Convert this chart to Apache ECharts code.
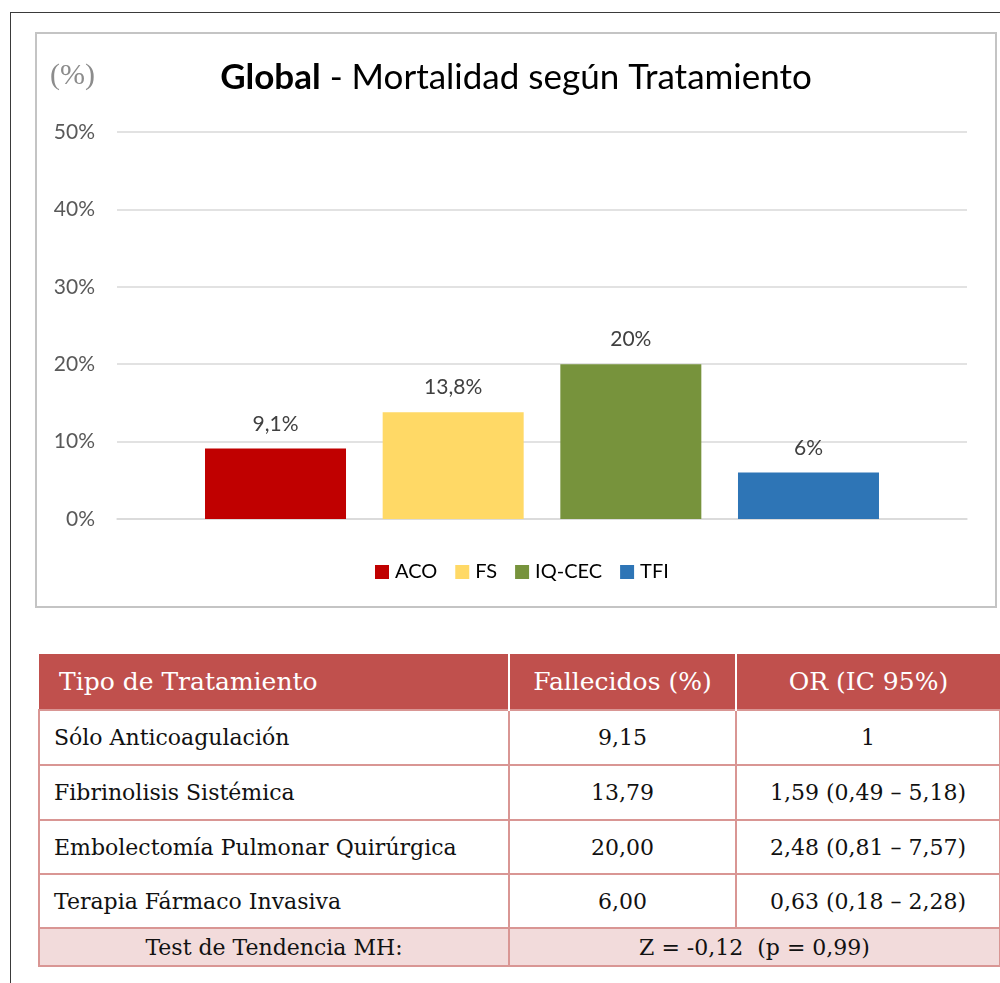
<!DOCTYPE html>
<html>
<head>
<meta charset="utf-8">
<script src="https://cdn.jsdelivr.net/npm/echarts@6/dist/echarts.min.js"></script>
<style>
  body { margin: 0; background: #fff; width: 1000px; height: 983px; position: relative; overflow: hidden; }
  .frame { position: absolute; left: 10px; top: 12px; width: 1000px; height: 980px;
    border-top: 1px solid #3a3a3a; border-left: 1px solid #3a3a3a; }
  .chart-box { position: absolute; left: 35px; top: 32px; width: 958px; height: 572px;
    border: 2px solid #c4c4c4; }
  #chart { width: 958px; height: 572px; }
  table.tt { position: absolute; left: 38px; top: 654px; width: 961px; border-collapse: collapse;
    table-layout: fixed; font-family: "DejaVu Serif", serif; font-size: 22px; color: #111; }
  .tt th { background: #c0504d; color: #fff; font-weight: normal; font-size: 25px; height: 55px;
    padding: 0; border-left: 2px solid #fff; }
  .tt th:first-child { border-left: none; text-align: left; padding-left: 20px; }
  .tt td { border: 2px solid #d99694; text-align: center; padding: 0; height: 53px; }
  .tt tr.r2 td, .tt tr.r3 td { height: 52px; }
  .tt td.name { text-align: left; padding-left: 14px; }
  .tt tr.test td { background: #f2dbdb; height: 36px; }
</style>
</head>
<body>
<div class="frame"></div>
<div class="chart-box"><div id="chart"></div></div>
<table class="tt" id="tabla">
  <colgroup><col style="width:470px"><col style="width:227px"><col style="width:264px"></colgroup>
</table>
<script>
// datos del grafico
var tratamientos = ['ACO', 'FS', 'IQ-CEC', 'TFI'];
var mortalidad = [9.1, 13.8, 20, 6];
var etiquetas = ['9,1%', '13,8%', '20%', '6%'];
var colores = ['#c00000', '#ffd966', '#77933c', '#2e75b6'];

// datos de la tabla
var encabezados = ['Tipo de Tratamiento', 'Fallecidos (%)', 'OR (IC 95%)'];
var nombres = ['Sólo Anticoagulación', 'Fibrinolisis Sistémica', 'Embolectomía Pulmonar Quirúrgica', 'Terapia Fármaco Invasiva'];
var fallecidos = ['9,15', '13,79', '20,00', '6,00'];
var orIc = ['1', '1,59 (0,49 – 5,18)', '2,48 (0,81 – 7,57)', '0,63 (0,18 – 2,28)'];
var testNombre = 'Test de Tendencia MH:';
var testValor = 'Z = -0,12  (p = 0,99)';

var fuente = 'Lato, "Open Sans", sans-serif';

var series = tratamientos.map(function (t, i) {
  return {
    name: t,
    type: 'bar',
    barWidth: 141,
    barGap: '26%',
    itemStyle: { color: colores[i] },
    label: {
      show: true,
      position: 'top',
      distance: 14,
      color: '#404040',
      fontSize: 21,
      fontFamily: fuente,
      formatter: function () { return etiquetas[i]; }
    },
    data: [mortalidad[i]]
  };
});

var chart = echarts.init(document.getElementById('chart'));
chart.setOption({
  animation: false,
  title: {
    text: '{b|Global} - Mortalidad según Tratamiento',
    left: 'center',
    top: 24,
    padding: 0,
    textStyle: {
      fontFamily: fuente,
      fontSize: 35,
      fontWeight: 'normal',
      color: '#000',
      lineHeight: 40,
      rich: { b: { fontFamily: fuente, fontSize: 35, fontWeight: 'bold', color: '#000', lineHeight: 40 } }
    }
  },
  graphic: [{
    type: 'text',
    left: 13,
    top: 27,
    style: { text: '(%)', fontFamily: '"Liberation Serif", serif', fontSize: 30, fill: '#8c8c8c' }
  }],
  legend: {
    data: tratamientos,
    left: 338,
    top: 528,
    padding: 0,
    icon: 'rect',
    itemWidth: 14,
    itemHeight: 14,
    itemGap: 18,
    textStyle: { fontFamily: fuente, fontSize: 20, color: '#000', padding: [0, 0, 0, 1] }
  },
  grid: { left: 80, right: 28, top: 98, bottom: 87 },
  xAxis: {
    type: 'category',
    data: [''],
    axisLine: { lineStyle: { color: '#d9d9d9', width: 1.5 } },
    axisTick: { show: false },
    axisLabel: { show: false }
  },
  yAxis: {
    type: 'value',
    min: 0,
    max: 50,
    interval: 10,
    axisLine: { show: false },
    axisTick: { show: false },
    splitLine: { lineStyle: { color: '#d9d9d9', width: 1.5 } },
    axisLabel: { formatter: '{value}%', fontFamily: fuente, fontSize: 21, color: '#595959', margin: 22 }
  },
  series: series
});

// tabla
var tabla = document.getElementById('tabla');
var html = '<tr>' + encabezados.map(function (h) { return '<th>' + h + '</th>'; }).join('') + '</tr>';
nombres.forEach(function (n, i) {
  html += '<tr class="r' + i + '"><td class="name">' + n + '</td><td>' + fallecidos[i] + '</td><td>' + orIc[i] + '</td></tr>';
});
html += '<tr class="test"><td>' + testNombre + '</td><td colspan="2">' + testValor.replace(/  /g, ' &nbsp;') + '</td></tr>';
tabla.insertAdjacentHTML('beforeend', html);
</script>
</body>
</html>
